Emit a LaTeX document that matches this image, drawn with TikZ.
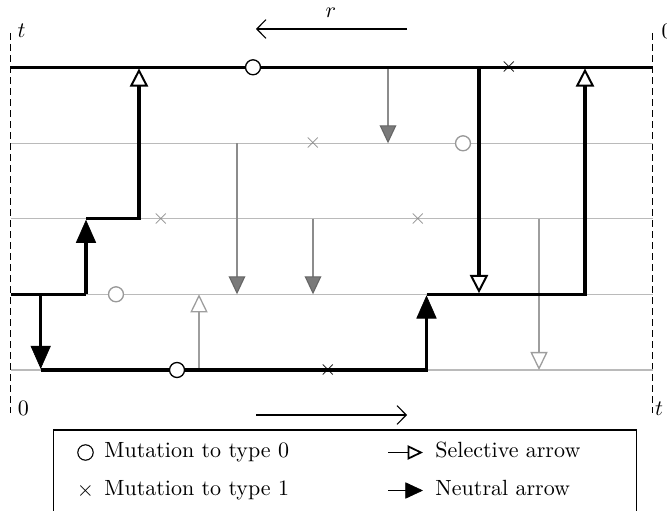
\documentclass[tikz,border=0pt]{standalone}
\usetikzlibrary{arrows.meta}
\tikzset{
  lvl/.style={draw=black!27, line width=0.5pt},
  lin/.style={draw=black, line width=1.6pt},
  sel/.style={-{Triangle[open,length=8.3pt,width=8.3pt,line width=0.9pt]}, shorten >=0.5pt},
  neu/.style={-{Triangle[length=10.5pt,width=9.2pt,line width=0.3pt]}, shorten >=0.5pt},
  gsel/.style={draw=black!38, line width=0.6pt, -{Triangle[open,length=8.2pt,width=7.8pt,line width=0.6pt]}},
  gneu/.style={draw=black!45, line width=0.6pt, -{Triangle[length=8.2pt,width=7.6pt,line width=0.5pt,fill=black!52,color=black!60]}},
  mutzero/.style={circle, draw, fill=white, minimum size=6.8pt, inner sep=0pt, line width=0.6pt},
  gmutzero/.style={mutzero, draw=black!40},
  mutone/.style={inner sep=0pt},
  gmutone/.style={inner sep=0pt, text=black!45},
  dashv/.style={draw=black, line width=0.45pt, dash pattern=on 3.2pt off 1.8pt},
  thinarr/.style={draw=black, line width=0.5pt, -{Straight Barb[length=4.2pt,width=8.5pt,line width=0.5pt]}},
  lab/.style={inner sep=0pt},
  legtext/.style={anchor=base west, inner sep=0pt}
}
\begin{document}
\begin{tikzpicture}[x=0.4545pt,y=-0.4545pt]
\useasboundingbox (0,0) rectangle (667,511);
% level coordinates
\coordinate (l1w) at (10.5,67.3);  \coordinate (l1e) at (652.5,67.3);
\coordinate (l2w) at (10.5,143.3); \coordinate (l2e) at (652.5,143.3);
\coordinate (l3w) at (10.5,218.7); \coordinate (l3e) at (652.5,218.7);
\coordinate (l4w) at (10.5,294.3); \coordinate (l4e) at (652.5,294.3);
\coordinate (l5w) at (10.5,370);   \coordinate (l5e) at (652.5,370);
% dashed time axes
\coordinate (dl1) at (10.5,33);  \coordinate (dl2) at (10.5,413);
\coordinate (dr1) at (652.5,33); \coordinate (dr2) at (652.5,413);
\draw[dashv] (dl1) -- (dl2);
\draw[dashv] (dr1) -- (dr2);
\node[lab] (tt) at (21.5,31) {$t$};
\node[lab] (t0) at (667,31) {$0$};
\node[lab] (b0) at (23.5,408.5) {$0$};
\node[lab] (bt) at (659,409) {$t$};
% r arrows
\coordinate (ra) at (407,29); \coordinate (rb) at (256,29);
\draw[thinarr] (ra) -- (rb);
\node[lab] (rl) at (331,13) {$r$};
\coordinate (sa) at (256,415); \coordinate (sb) at (407,415);
\draw[thinarr] (sa) -- (sb);
% gray levels
\draw[lvl] (l2w) -- (l2e);
\draw[lvl] (l3w) -- (l3e);
\draw[lvl] (l4w) -- (l4e);
\draw[lvl] (l5w) -- (l5e);
% gray arrows
\coordinate (g1) at (388,67.3);  \coordinate (g2) at (388,143.3);
\coordinate (h2) at (237,143.3); \coordinate (h4) at (237,294.3);
\coordinate (i3) at (313,218.7); \coordinate (i4) at (313,294.3);
\coordinate (j5) at (199,370);   \coordinate (j4) at (199,294.3);
\coordinate (k3) at (539,218.7); \coordinate (k5) at (539,370);
\draw[gneu] (g1) -- (g2);
\draw[gneu] (h2) -- (h4);
\draw[gneu] (i3) -- (i4);
\draw[gsel] (j5) -- (j4);
\draw[gsel] (k3) -- (k5);
% lineage
\coordinate (a4) at (86,294.3);   \coordinate (a3) at (86,218.7);
\coordinate (b3) at (139,218.7);  \coordinate (b1) at (139,67.3);
\coordinate (c4) at (40.7,294.3); \coordinate (c5) at (40.7,370);
\coordinate (d5) at (426.5,370);  \coordinate (d4) at (426.5,294.3);
\coordinate (e4) at (585,294.3);  \coordinate (e1) at (585,67.3);
\coordinate (f1) at (479,67.3);   \coordinate (f4) at (479,294.3);
\draw[lin] (l1w) -- (l1e);
\draw[lin] (l4w) -- (a4);
\draw[lin,neu] (a4) -- (a3);
\draw[lin,sel] (a3) -- (b3) -- (b1);
\draw[lin,neu] (c4) -- (c5);
\draw[lin,neu] (c5) -- (d5) -- (d4);
\draw[lin,sel] (d4) -- (e4) -- (e1);
\draw[lin,sel] (f1) -- (f4);
% mutations
\node[mutzero] (m1) at (253,67.3) {};
\node[mutzero] (m2) at (177,370) {};
\node[gmutzero] (m3) at (463,143.3) {};
\node[gmutzero] (m4) at (116,294.3) {};
\node[mutone] (x1) at (509,67.3) {$\times$};
\node[mutone] (x2) at (328,370) {$\times$};
\node[gmutone] (x3) at (313,143.3) {$\times$};
\node[gmutone] (x4) at (161,218.7) {$\times$};
\node[gmutone] (x5) at (418,218.7) {$\times$};
% legend
\draw[line width=0.5pt] (53.5,430) rectangle (636.5,540);
\node[mutzero, line width=0.5pt, minimum size=7pt] (k0) at (85.5,452.5) {};
\node[legtext] (k0t) at (104,457.5) {Mutation to type 0};
\node[mutone] (k1) at (85.5,490.5) {$\times$};
\node[legtext] (k1t) at (104,495.5) {Mutation to type 1};
\coordinate (ks1) at (388,452.5); \coordinate (ks2) at (423,452.5);
\draw[line width=0.8pt, -{Triangle[open,length=7pt,width=6.5pt,line width=0.8pt]}] (ks1) -- (ks2);
\node[legtext] (kst) at (435,457.5) {Selective arrow};
\coordinate (kn1) at (388,490.5); \coordinate (kn2) at (423,490.5);
\draw[line width=0.8pt, -{Triangle[length=8pt,width=7.4pt,line width=0.3pt]}] (kn1) -- (kn2);
\node[legtext] (knt) at (435,495.5) {Neutral arrow};
\end{tikzpicture}
\end{document}
